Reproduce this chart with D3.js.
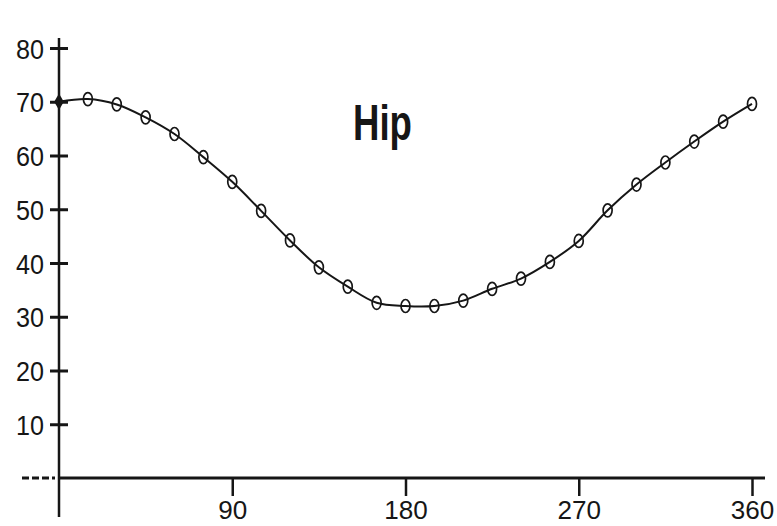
<!DOCTYPE html>
<html>
<head>
<meta charset="utf-8">
<script src="https://cdn.jsdelivr.net/npm/d3@7"></script>
<style>
  html, body { margin: 0; padding: 0; background: #fff; }
  svg { display: block; font-family: "Liberation Sans", Arial, Helvetica, sans-serif; }
</style>
</head>
<body>
<div id="chart"></div>
<script>
const WIDTH = 777;
const HEIGHT = 526;
const INK = '#161616';

// joint angle sampled every 15 degrees of the cycle
const angles = [0, 15, 30, 45, 60, 75, 90, 105, 120, 135, 150, 165, 180,
                195, 210, 225, 240, 255, 270, 285, 300, 315, 330, 345, 360];
const hipValues = [70, 70.5, 69.5, 67.1, 64.0, 59.7, 55.1, 49.7, 44.2, 39.2, 35.6, 32.6, 32.0,
                   32.0, 33.0, 35.2, 37.1, 40.2, 44.1, 49.8, 54.6, 58.7, 62.6, 66.3, 69.6];
const xTicks = [90, 180, 270, 360];
const yTicks = [10, 20, 30, 40, 50, 60, 70, 80];
const label = 'Hip';

const data = angles.map((a, i) => ({angle: a, value: hipValues[i]}));

const xScale = d3.scaleLinear().domain([0, 360]).range([59, 752]);
const yScale = d3.scaleLinear().domain([0, 80]).range([478, 48]);

const svg = d3.select('#chart')
    .append('svg')
    .attr('width', WIDTH)
    .attr('height', HEIGHT);

// axis lines (drawn by hand so they can overshoot the plotted range)
svg.append('line')
    .attr('x1', xScale(0)).attr('x2', xScale(0))
    .attr('y1', yScale(80) - 10).attr('y2', yScale(0) + 39)
    .attr('stroke', INK).attr('stroke-width', 2.5);

svg.append('line')
    .attr('x1', xScale(0) - 37).attr('x2', xScale(0) - 4)
    .attr('y1', yScale(0)).attr('y2', yScale(0))
    .attr('stroke', INK).attr('stroke-width', 3)
    .attr('stroke-dasharray', '7,3');

svg.append('line')
    .attr('x1', xScale(0)).attr('x2', xScale(360) + 13)
    .attr('y1', yScale(0)).attr('y2', yScale(0))
    .attr('stroke', INK).attr('stroke-width', 3);

// y axis, ticks crossing the line
const yAxis = d3.axisLeft(yScale)
    .tickValues(yTicks)
    .tickSize(9)
    .tickPadding(6)
    .tickFormat(d3.format('d'));

const yg = svg.append('g')
    .attr('transform', `translate(${xScale(0)},0)`)
    .call(yAxis);
yg.select('.domain').remove();
yg.selectAll('.tick line')
    .attr('x1', -9).attr('x2', 9)
    .attr('stroke', INK).attr('stroke-width', 3);
yg.selectAll('.tick text')
    .attr('fill', INK)
    .style('font-size', '28px')
    .attr('dy', '0.36em')
    .attr('textLength', d => String(d).length * 14)
    .attr('lengthAdjust', 'spacingAndGlyphs');

// x axis, ticks hanging down
const xAxis = d3.axisBottom(xScale)
    .tickValues(xTicks)
    .tickSize(18)
    .tickFormat(d3.format('d'));

const xg = svg.append('g')
    .attr('transform', `translate(0,${yScale(0)})`)
    .call(xAxis);
xg.select('.domain').remove();
xg.selectAll('.tick line')
    .attr('stroke', INK).attr('stroke-width', 2.5);
xg.selectAll('.tick text')
    .attr('fill', INK)
    .style('font-size', '26px')
    .attr('y', 41)
    .attr('dy', 0)
    .attr('textLength', d => String(d).length * 14.5)
    .attr('lengthAdjust', 'spacingAndGlyphs');

// curve
const line = d3.line()
    .x(d => xScale(d.angle))
    .y(d => yScale(d.value))
    .curve(d3.curveCatmullRom.alpha(0.5));

svg.append('path')
    .datum(data)
    .attr('d', line)
    .attr('fill', 'none')
    .attr('stroke', INK)
    .attr('stroke-width', 2);

// open markers (the first sample is a filled diamond)
svg.selectAll('.pt')
    .data(data.slice(1))
    .enter()
    .append('ellipse')
    .classed('pt', true)
    .attr('cx', d => xScale(d.angle))
    .attr('cy', d => yScale(d.value))
    .attr('rx', 4.5)
    .attr('ry', 6.5)
    .attr('fill', 'none')
    .attr('stroke', INK)
    .attr('stroke-width', 1.7);

svg.append('path')
    .datum(data[0])
    .attr('d', d3.symbol(d3.symbolDiamond, 80))
    .attr('transform', d => `translate(${xScale(d.angle)},${yScale(d.value)})`)
    .attr('fill', INK);

// panel label
svg.append('text')
    .attr('x', 353)
    .attr('y', 140)
    .attr('fill', INK)
    .style('font-size', '50px')
    .style('font-weight', 'bold')
    .attr('textLength', 59)
    .attr('lengthAdjust', 'spacingAndGlyphs')
    .text(label);
</script>
</body>
</html>
